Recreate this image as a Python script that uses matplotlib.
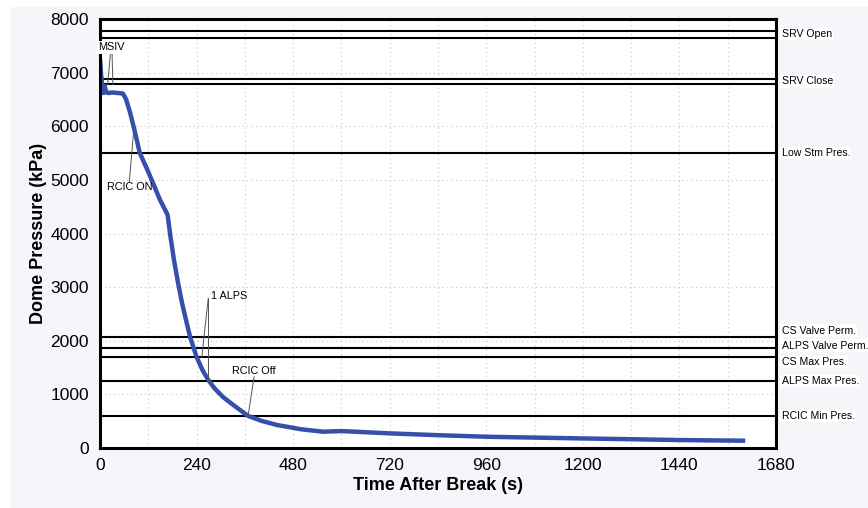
import numpy as np
import matplotlib.pyplot as plt
from matplotlib.ticker import MultipleLocator
from matplotlib.patches import Rectangle

plt.rcParams['font.family'] = ['Liberation Sans', 'DejaVu Sans']

# Dome pressure transient
time_s = [0, 3, 6, 9, 12, 15, 20, 30, 45, 57, 65, 75, 85, 99, 120, 149, 168,
          175, 184, 194, 204, 214, 224, 240, 255, 269, 285, 306, 330, 368,
          400, 440, 500, 555, 600, 720, 840, 961, 1080, 1193, 1320, 1433,
          1520, 1598]
pressure_kpa = [7250, 6950, 6700, 6620, 6750, 6640, 6620, 6630, 6620, 6610,
                6500, 6250, 5950, 5500, 5150, 4630, 4350,
                3950, 3500, 3080, 2700, 2380, 2070, 1700, 1450, 1270, 1110,
                950, 810, 600, 510, 430, 350, 305, 317, 274, 240, 211, 195,
                180, 165, 150, 143, 137]

# Setpoint lines on the right
setpoint_levels = [7780, 7650, 6890, 6780, 5500, 2070, 1870, 1700, 1250, 600]
setpoint_labels = [("SRV Open", 7715), ("SRV Close", 6835), ("Low Stm Pres.", 5500),
                   ("CS Valve Perm.", 2190), ("ALPS Valve Perm.", 1910),
                   ("CS Max Pres.", 1600), ("ALPS Max Pres.", 1250),
                   ("RCIC Min Pres.", 600)]

fig = plt.figure(figsize=(8.68, 5.08), dpi=100, facecolor="white")
fig.patches.append(Rectangle((10 / 868, 0), 1, 1 - 7 / 508, transform=fig.transFigure,
                             facecolor="#f5f5fa", edgecolor="none", zorder=-10))
ax = fig.add_axes([0.1152, 0.118, 0.7788, 0.8446])
ax.set_facecolor("white")

ax.set_xlim(0, 1680)
ax.set_ylim(0, 8000)
ax.xaxis.set_major_locator(MultipleLocator(240))
ax.xaxis.set_minor_locator(MultipleLocator(120))
ax.yaxis.set_major_locator(MultipleLocator(1000))
ax.grid(True, which="both", axis="x", color="#c8c8c8", linestyle=(0, (1, 3)), linewidth=0.8)
ax.grid(True, which="major", axis="y", color="#c8c8c8", linestyle=(0, (1, 3)), linewidth=0.8)
ax.tick_params(which="both", length=0, labelsize=12.5)
ax.tick_params(axis="y", pad=8)
ax.tick_params(axis="x", pad=7)

for lvl in setpoint_levels:
    ax.axhline(lvl, color="black", linewidth=1.5, zorder=2)

for txt, y in setpoint_labels:
    ax.annotate(txt, xy=(1.0, y), xycoords=("axes fraction", "data"),
                xytext=(4, 0), textcoords="offset points", va="center", ha="left",
                fontsize=7.6, annotation_clip=False,
                bbox=dict(facecolor="white", edgecolor="none", pad=0.8))

ax.plot(time_s, pressure_kpa, color="#3550aa", linewidth=3.2, zorder=3,
        solid_joinstyle="round")

# event annotations
ann = dict(fontsize=7.8, ha="center", va="center", zorder=6)
lead = dict(color="#555555", linewidth=0.7, zorder=4)
ax.text(28, 7470, "MSIV", clip_on=False,
        bbox=dict(facecolor="white", edgecolor="none", pad=1.0), **ann)
ax.plot([26, 19], [7360, 6780], **lead)
ax.plot([30, 32], [7360, 6780], **lead)
ax.text(75, 4870, "RCIC ON", **ann)
ax.plot([73, 84], [4970, 5950], **lead)
ax.text(320, 2830, "1 ALPS", **ann)
ax.plot([269, 253], [2790, 1700], **lead)
ax.plot([269, 269], [2790, 1270], **lead)
ax.text(383, 1440, "RCIC Off", **ann)
ax.plot([383, 368], [1330, 600], **lead)

for sp in ax.spines.values():
    sp.set_linewidth(2.2)
    sp.set_zorder(5)

ax.set_xlabel("Time After Break (s)", fontsize=13, fontweight="bold", labelpad=3)
ax.set_ylabel("Dome Pressure (kPa)", fontsize=13, fontweight="bold", labelpad=2)

fig.savefig("out.png", dpi=100, facecolor=fig.get_facecolor())
